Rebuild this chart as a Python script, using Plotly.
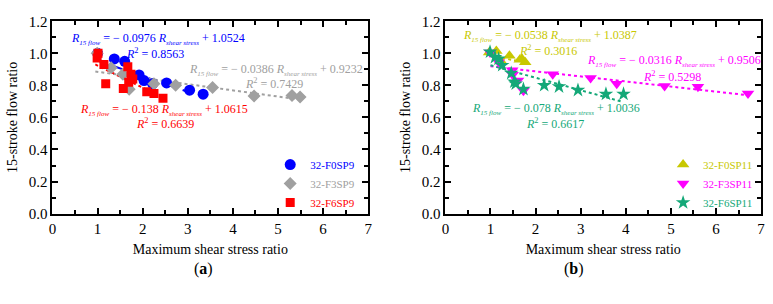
import numpy as np
import plotly.graph_objects as go

# ---------------- data ----------------
# Panel (a)
a_names = ["32-F0SP9", "32-F3SP9", "32-F6SP9"]
a_x = [
    [1.00, 1.37, 1.60, 1.92, 2.03, 2.22, 2.53, 3.04, 3.34],
    [0.99, 1.30, 1.56, 1.70, 2.25, 2.73, 3.55, 4.47, 5.31, 5.49],
    [1.01, 0.99, 1.14, 1.18, 1.57, 1.67, 1.69, 1.74, 1.78, 2.09, 2.25, 2.45],
]
a_y = [
    [1.00, 0.965, 0.95, 0.865, 0.83, 0.81, 0.815, 0.77, 0.745],
    [1.00, 0.91, 0.87, 0.776, 0.81, 0.80, 0.786, 0.733, 0.737, 0.728],
    [1.00, 0.97, 0.93, 0.81, 0.78, 0.916, 0.82, 0.87, 0.84, 0.76, 0.75, 0.72],
]
a_slope = [-0.0976, -0.0386, -0.138]
a_icpt = [1.0524, 0.9232, 1.0615]
a_r2 = ["0.8563", "0.7429", "0.6639"]
a_fit_range = [[1.0, 3.35], [0.95, 5.5], [0.95, 2.45]]

# Panel (b)
b_names = ["32-F0SP11", "32-F3SP11", "32-F6SP11"]
b_x = [
    [0.97, 1.13, 1.22, 1.42, 1.65, 1.70, 1.77],
    [0.99, 1.18, 1.48, 1.49, 1.61, 1.73, 2.38, 3.22, 3.80, 4.86, 5.60, 6.71],
    [0.99, 1.10, 1.18, 1.26, 1.46, 1.53, 1.56, 1.73, 2.19, 2.52, 2.94, 3.56, 3.95],
]
b_y = [
    [1.005, 1.015, 0.955, 0.985, 0.96, 0.965, 0.945],
    [1.005, 0.945, 0.895, 0.866, 0.83, 0.766, 0.87, 0.846, 0.81, 0.796, 0.792, 0.75],
    [1.009, 0.975, 0.965, 0.925, 0.876, 0.822, 0.81, 0.776, 0.80, 0.792, 0.77, 0.746, 0.746],
]
b_slope = [-0.0538, -0.0316, -0.078]
b_icpt = [1.0387, 0.9506, 1.0036]
b_r2 = ["0.3016", "0.5298", "0.6617"]
b_fit_range = [[1.0, 1.8], [1.0, 6.72], [1.0, 3.93]]

x_ticks = [0, 1, 2, 3, 4, 5, 6, 7]
y_ticks = [0.0, 0.2, 0.4, 0.6, 0.8, 1.0, 1.2]

# ---------------- styles ----------------
FONT = "Times New Roman, Liberation Serif, serif"
a_colors = ["#0000ff", "#a0a0a0", "#ff0000"]
b_colors = ["#c8c800", "#ff00ff", "#14a878"]
a_symbols = ["circle", "diamond", "square"]
b_symbols = ["triangle-up", "triangle-down", "star"]
a_sizes = [11, 10, 9]
b_sizes = [11, 11, 11]
a_dash = ["dash", "dot", "dot"]
b_dash = ["dot", "dot", "dot"]

fig = go.Figure()


def add_panel(names, xs, ys, slopes, icpts, ranges, colors, symbols, sizes, dashes, xa, ya, leg):
    for i in range(len(names)):
        xr = np.linspace(ranges[i][0], ranges[i][1], 2)
        fig.add_trace(go.Scatter(
            x=xr, y=slopes[i] * xr + icpts[i], mode="lines",
            line=dict(color=colors[i], width=2, dash=dashes[i]),
            showlegend=False, xaxis=xa, yaxis=ya, hoverinfo="skip"))
    for i in range(len(names)):
        fig.add_trace(go.Scatter(
            x=xs[i], y=ys[i], mode="markers",
            name=f"<span style='color:{colors[i]}'>{names[i]}</span>",
            marker=dict(color=colors[i], symbol=symbols[i], size=sizes[i], line=dict(width=0)),
            xaxis=xa, yaxis=ya, legend=leg))


add_panel(a_names, a_x, a_y, a_slope, a_icpt, a_fit_range, a_colors, a_symbols, a_sizes, a_dash, "x", "y", "legend")
add_panel(b_names, b_x, b_y, b_slope, b_icpt, b_fit_range, b_colors, b_symbols, b_sizes, b_dash, "x2", "y2", "legend2")


def eq_text(s, c):
    sign = "−" if s < 0 else "+"
    sub = "<sub><span style='font-size:7px'><i>{}</i></span></sub>"
    return (f"<i>R</i>{sub.format('15 flow')} = {sign} {abs(s):g} "
            f"<i>R</i>{sub.format('shear stress')} + {c:.4f}")


W, H = 773, 304
annots = []
# (x_px, anchor, y_px, r2_x_center, r2_y)
a_pos = [(67, "left", 33, 153, 48), (364, "right", 65, 273, 80), (76, "left", 108, 163, 122)]
b_pos = [(463, "left", 30, 550, 45), (766, "right", 56, 675, 72), (472, "left", 107, 557, 122)]
for pos, slopes, icpts, r2s, cols in [(a_pos, a_slope, a_icpt, a_r2, a_colors),
                                       (b_pos, b_slope, b_icpt, b_r2, b_colors)]:
    for i in range(3):
        xl, anc, yl, xr2, yr2 = pos[i]
        annots.append(dict(x=xl / W, y=1 - yl / H, xref="paper", yref="paper",
                           xanchor=anc, yanchor="middle", showarrow=False,
                           text=eq_text(slopes[i], icpts[i]), borderpad=0,
                           font=dict(family=FONT, size=12, color=cols[i])))
        annots.append(dict(x=xr2 / W, y=1 - yr2 / H, xref="paper", yref="paper",
                           xanchor="center", yanchor="middle", showarrow=False,
                           text=f"<i>R</i><sup>2</sup> = {r2s[i]}", borderpad=0,
                           font=dict(family=FONT, size=12, color=cols[i])))

annots.append(dict(x=190 / W, y=1 - 287 / H, xref="paper", yref="paper", showarrow=False,
                   text="(<b>a</b>)", font=dict(family=FONT, size=16, color="black")))
annots.append(dict(x=588 / W, y=1 - 287 / H, xref="paper", yref="paper", showarrow=False,
                   text="(<b>b</b>)", font=dict(family=FONT, size=16, color="black")))

axis_common = dict(
    showline=True, linecolor="black", linewidth=2, mirror="ticks",
    ticks="inside", ticklen=6, tickwidth=1.5, tickcolor="black",
    showgrid=False, zeroline=False,
    tickfont=dict(family=FONT, size=15, color="black"),
)
xaxis_common = dict(axis_common, range=[0, 7], tickvals=x_ticks,
                    ticktext=[str(v) for v in x_ticks],
                    minor=dict(ticks="inside", ticklen=4, tickcolor="black", dtick=0.5, tickwidth=1.5),
                    title=dict(text="Maximum shear stress ratio",
                               font=dict(family=FONT, size=14, color="black"), standoff=9))
yaxis_common = dict(axis_common, range=[0, 1.2], tickvals=y_ticks,
                    ticktext=[f"{v:.1f}" for v in y_ticks],
                    minor=dict(ticks="inside", ticklen=4, tickcolor="black", dtick=0.1, tickwidth=1.5),
                    title=dict(text="15-stroke flow ratio",
                               font=dict(family=FONT, size=14, color="black"), standoff=8))

y_dom = [1 - 217 / H, 1 - 14 / H]
fig.update_layout(
    width=W, height=H, margin=dict(l=0, r=0, t=0, b=0),
    paper_bgcolor="white", plot_bgcolor="white",
    font=dict(family=FONT),
    xaxis=dict(xaxis_common, domain=[49 / W, 368 / W], anchor="y"),
    yaxis=dict(yaxis_common, domain=y_dom, anchor="x"),
    xaxis2=dict(xaxis_common, domain=[446 / W, 765 / W], anchor="y2"),
    yaxis2=dict(yaxis_common, domain=y_dom, anchor="x2"),
    legend=dict(x=269 / W, y=1 - 150 / H, xanchor="left", yanchor="top",
                bgcolor="rgba(0,0,0,0)", tracegroupgap=0, itemsizing="trace",
                font=dict(family=FONT, size=11)),
    legend2=dict(x=666 / W, y=1 - 150 / H, xanchor="left", yanchor="top",
                 bgcolor="rgba(0,0,0,0)", tracegroupgap=0, itemsizing="trace",
                 font=dict(family=FONT, size=11)),
    annotations=annots,
    showlegend=True,
)

fig.write_html("out.html")
